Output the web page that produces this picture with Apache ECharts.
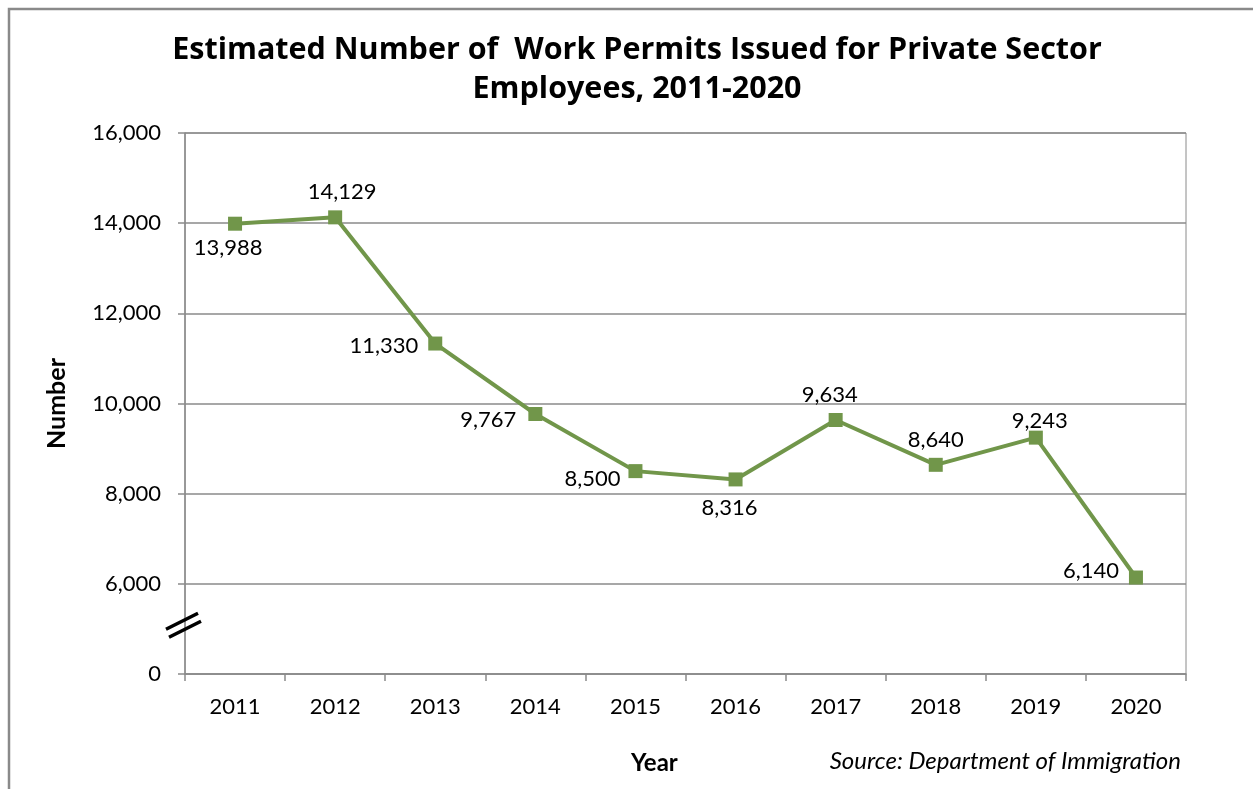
<!DOCTYPE html>
<html>
<head>
<meta charset="utf-8">
<script src="https://cdn.jsdelivr.net/npm/echarts@6/dist/echarts.min.js"></script>
<style>
html,body{margin:0;padding:0;background:#fff;}
#chart{width:1253px;height:789px;}
</style>
</head>
<body>
<div id="chart"></div>
<script>
const years = ['2011','2012','2013','2014','2015','2016','2017','2018','2019','2020'];
const permits = [13988, 14129, 11330, 9767, 8500, 8316, 9634, 8640, 9243, 6140];
// label placement per point (text only)
const labelPos = ['bottom','top','left','left','left','bottom','top','top','top','left'];
const labelOffset = [[-7,0],[7,0],[0,2],[0,6],[0,8],[-6,0],[-6,0],[0,0],[4,2],[0,-7]];
const labelDist = [6,7,10,12,8,10,7,7,1,10];
const yTickLabels = {4000:'0',6000:'6,000',8000:'8,000',10000:'10,000',12000:'12,000',14000:'14,000',16000:'16,000'};

const FONT = 'Lato, "Open Sans", sans-serif';
const GRID = {left:185, right:67, top:133, bottom:115};
const chart = echarts.init(document.getElementById('chart'), null, {renderer:'canvas'});

const seriesData = permits.map((v,i)=>({
  value: v,
  label: {position: labelPos[i], offset: labelOffset[i], distance: labelDist[i]}
}));

const option = {
  backgroundColor:'#fff',
  animation:false,
  title:{
    text:'Estimated Number of  Work Permits Issued for Private Sector\nEmployees, 2011-2020',
    left:632, top:26, textAlign:'center',
    textStyle:{fontFamily:'"Open Sans", Lato, sans-serif', fontWeight:'bold', fontSize:30.5, lineHeight:39, color:'#000'}
  },
  grid:{left:GRID.left, right:GRID.right, top:GRID.top, bottom:GRID.bottom, show:true, borderColor:'#8a8a8a', borderWidth:1},
  xAxis:{
    type:'category', data:years, boundaryGap:true,
    axisLine:{lineStyle:{color:'#8a8a8a', width:1.5}},
    axisTick:{show:true, length:7, interval:0, lineStyle:{color:'#8a8a8a', width:1.5}},
    axisLabel:{fontFamily:FONT, fontSize:22, color:'#000', margin:22}
  },
  yAxis:{
    type:'value', min:4000, max:16000, interval:2000,
    name:'Number', nameLocation:'middle', nameGap:116, nameRotate:90,
    nameTextStyle:{fontFamily:FONT, fontWeight:'bold', fontSize:25, color:'#000'},
    axisLine:{show:true, lineStyle:{color:'#8a8a8a', width:1.5}},
    axisTick:{show:true, length:7, lineStyle:{color:'#8a8a8a', width:1.5}},
    axisLabel:{fontFamily:FONT, fontSize:22, color:'#000', margin:24,
      formatter:v=>yTickLabels[v] !== undefined ? yTickLabels[v] : ''},
    splitLine:{show:true, lineStyle:{color:'#8a8a8a', width:1.5}}
  },
  series:[{
    type:'line', data:seriesData,
    symbol:'rect', symbolSize:14,
    lineStyle:{color:'#71964a', width:4},
    itemStyle:{color:'#71964a'},
    label:{show:true, fontFamily:FONT, fontSize:22, color:'#000',
      formatter:p=>p.value.toLocaleString('en-US')}
  }],
  graphic:[
    {id:'frame', type:'rect', shape:{x:9, y:9, width:1300, height:900}, style:{fill:null, stroke:'#8a8a8a', lineWidth:2.5}, silent:true, z:-1},
    {id:'yearName', type:'text', left:631, top:751, style:{text:'Year', fontFamily:FONT, fontWeight:'bold', fontSize:24, fill:'#000'}},
    {id:'source', type:'text', right:72, top:749, style:{text:'Source: Department of Immigration', fontFamily:FONT, fontStyle:'italic', fontSize:24, fill:'#000'}}
  ]
};
chart.setOption(option);

// axis break marker on the value axis
const yb = chart.convertToPixel({yAxisIndex:0}, 5170);
const xb = GRID.left - 1;
chart.setOption({graphic:[
  {id:'break1', type:'line', shape:{x1:xb-18, y1:yb+8, x2:xb+14, y2:yb-8}, style:{stroke:'#000', lineWidth:3.5}, z:100},
  {id:'break2', type:'line', shape:{x1:xb-15, y1:yb+16, x2:xb+17, y2:yb}, style:{stroke:'#000', lineWidth:3.5}, z:100}
]});
</script>
</body>
</html>
